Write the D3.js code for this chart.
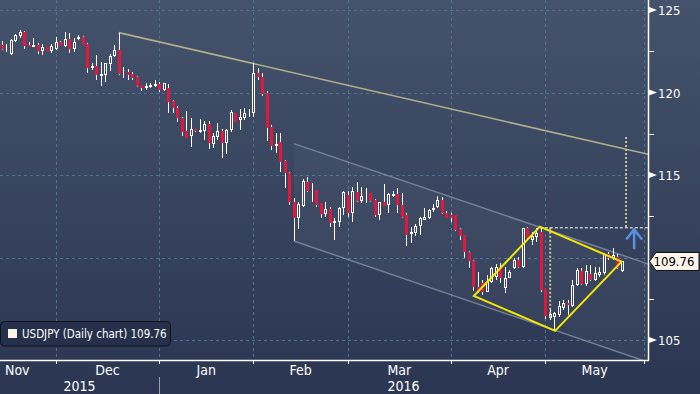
<!doctype html>
<html>
  <head>
    <title>USDJPY daily</title>
    <style>
      body { margin: 0; background: #2c3853; }
      text { font-family: 'Liberation Sans Narrow', 'DejaVu Sans Condensed', sans-serif; }
    </style>
  </head>
  <body>
    <svg width='700' height='394'></svg>

  <script src='https://cdnjs.cloudflare.com/ajax/libs/d3/7.8.5/d3.min.js'></script>
  <script>
// Daily candles, [open, high, low, close], one per weekday from mid-Nov 2015
var ohlc = [
  [122.88,123.12,122.58,122.62],[122.58,122.94,122.47,122.64],[122.33,123.24,122.29,123.18],
  [123.14,123.55,123.08,123.48],[123.42,123.79,123.30,123.65],[123.67,123.70,122.65,122.82],
  [122.88,123.08,122.77,122.78],[122.78,123.32,122.76,122.88],[122.88,123.00,122.35,122.53],
  [122.53,122.94,122.27,122.74],[122.74,122.76,122.50,122.52],[122.53,122.94,122.38,122.80],
  [122.62,123.35,122.58,123.08],[123.08,123.14,122.80,122.82],[122.82,123.69,122.78,123.23],
  [123.23,123.59,122.38,122.62],[122.62,123.29,122.47,123.08],[123.23,123.48,123.18,123.38],
  [123.38,123.42,122.85,122.88],[122.92,123.02,121.17,121.47],[121.47,121.81,121.37,121.61],
  [121.61,122.27,120.76,121.06],[121.00,121.87,120.41,121.11],[121.06,121.81,120.64,121.77],
  [121.71,122.33,121.32,122.23],[122.21,122.88,122.17,122.58],[122.58,123.63,121.06,121.11],
  [121.21,121.56,120.90,121.23],[121.26,121.41,120.76,121.06],[121.11,121.24,120.76,120.86],
  [120.96,121.00,120.33,120.40],[120.45,120.45,120.09,120.29],[120.26,120.60,120.15,120.40],
  [120.35,120.58,120.27,120.45],[120.41,120.76,120.33,120.50],[120.52,120.64,120.05,120.15],
  [120.15,120.58,120.12,120.56],[120.26,120.50,118.74,119.44],[119.49,119.55,118.76,119.04],
  [119.04,119.18,118.23,118.46],[118.46,118.50,117.37,117.61],[117.67,118.88,117.22,117.27],
  [117.38,118.46,116.72,117.79],[117.79,117.80,117.63,117.67],[117.63,118.40,117.53,117.73],
  [117.69,118.29,117.12,118.07],[118.07,118.29,116.56,116.96],[116.86,117.53,116.62,117.36],
  [117.32,118.13,117.12,117.67],[117.67,117.77,116.01,116.92],[116.92,117.77,116.27,117.73],
  [117.73,118.94,117.63,118.84],[118.74,118.76,118.21,118.23],[118.33,118.98,117.73,118.50],
  [118.44,119.04,118.33,118.74],[118.74,118.98,118.50,118.84],[118.78,121.77,118.50,121.20],
  [121.20,121.50,120.76,120.96],[120.96,121.18,119.79,119.89],[119.95,120.09,117.06,117.87],
  [117.93,118.03,116.52,116.78],[116.78,117.55,116.33,116.86],[116.98,117.55,115.18,115.81],
  [115.85,115.91,114.21,115.10],[115.10,115.18,113.18,113.35],[113.35,113.61,111.00,112.41],
  [112.41,113.38,111.73,113.23],[113.15,114.76,113.08,114.64],[114.60,114.86,113.99,114.05],
  [114.05,114.50,113.38,114.09],[114.09,114.12,113.08,113.18],[113.28,113.29,112.38,112.64],
  [112.64,113.38,112.47,112.92],[112.92,113.05,111.87,112.07],[112.07,112.38,111.06,112.21],
  [112.17,113.05,111.87,112.98],[112.98,114.05,112.58,113.99],[113.79,114.05,112.47,112.68],
  [112.68,114.26,112.17,114.05],[113.99,114.60,113.38,113.44],[113.44,114.29,113.28,113.73],
  [113.69,114.20,113.28,113.73],[113.89,113.93,113.38,113.44],[113.48,113.53,112.47,112.58],
  [112.58,113.38,112.27,113.35],[113.35,114.45,113.14,113.14],[113.18,113.93,112.68,113.85],
  [113.73,114.05,113.69,113.85],[113.85,114.20,112.68,113.18],[113.18,113.89,112.38,112.47],
  [112.58,112.68,110.72,111.37],[111.41,111.87,110.86,111.53],[111.47,112.01,111.32,111.93],
  [111.93,112.47,111.37,112.38],[112.27,112.98,112.27,112.44],[112.38,112.94,112.33,112.88],
  [112.88,113.23,112.78,113.02],[113.08,113.75,113.02,113.48],[113.48,113.69,112.62,112.68],
  [112.68,112.82,112.38,112.41],[112.58,112.68,112.17,112.38],[112.58,112.60,111.61,111.67],
  [111.73,111.81,111.06,111.32],[111.37,111.39,109.99,110.35],[110.35,110.40,109.38,109.79],
  [109.79,109.85,107.97,108.23],[108.23,109.14,107.83,107.97],[108.44,108.64,107.73,107.93],
  [107.93,108.94,107.88,108.53],[108.53,109.45,108.44,109.35],[108.84,109.61,108.64,109.45],
  [109.45,109.67,108.45,108.74],[108.17,109.45,107.83,108.78],[108.78,109.24,108.73,109.14],
  [109.35,109.95,109.30,109.85],[109.85,110.05,109.35,109.44],[109.44,111.81,109.35,111.77],
  [111.77,111.87,111.12,111.16],[111.06,111.57,110.76,111.32],[111.26,111.77,110.96,111.47],
  [111.53,111.77,107.89,108.03],[108.09,108.09,106.27,106.47],[106.35,106.92,106.21,106.56],
  [106.41,106.72,105.61,106.62],[106.52,107.36,106.41,107.08],[106.92,107.42,106.82,107.22],
  [107.26,107.42,106.52,107.12],[107.08,108.64,107.02,108.33],[108.33,109.38,108.29,109.24],
  [109.20,109.38,108.35,108.40],[108.38,109.55,108.27,109.20],[108.98,109.55,108.58,108.64],
  [108.64,109.45,108.58,109.05],[108.94,109.45,108.84,109.14],[109.05,110.26,108.94,110.20],
  [110.20,110.35,109.85,109.95],[109.99,110.56,109.85,110.15],[110.05,110.20,109.30,109.35],
  [109.18,109.79,109.14,109.76]
];

// month labels and the candle index where each month starts
var months = ['Nov', 'Dec', 'Jan', 'Feb', 'Mar', 'Apr', 'May'];
var monthStart = [-9, 12, 35, 56, 77, 100, 121, 143];
var years = ['2015', '2016'];
var yearStart = [-9, 35, 144];
var yMajor = [105, 110, 115, 120, 125];
var yMinor = [107.5, 112.5, 117.5, 122.5];
var lastPrice = 109.76;
var legendLabel = 'USDJPY (Daily chart) 109.76';

// drawn studies, points as [candle index, price]
var resistance = [[26, 123.63], [144, 116.25]];
var channelTop = [[65, 116.9], [144, 109.6]];
var channelBottom = [[65, 111.0], [144, 103.65]];
var diamond = [[105.1, 107.67], [119.8, 111.87], [138, 109.75], [123.2, 105.55]];
var heightLine = [[122.1, 111.8], [122.1, 106.3]];
var targetLine = [[139, 111.85], [139, 117.3]];
var breakLevel = [[119.8, 111.8], [144, 111.8]];
var arrow = { i: 140.8, from: 110.5, to: 111.7 };

var svg = d3.select('svg'),
  width = +svg.attr('width'),
  height = +svg.attr('height'),
  right = 648,
  bottom = 360;

var x = d3.scaleLinear().domain([0, 143]).range([2, 644]);
var y = d3.scaleLinear().domain([105, 125]).range([340, 10]);

// background
var defs = svg.append('defs');
var grad = defs.append('linearGradient').attr('id', 'bg')
  .attr('x1', 0).attr('y1', 0).attr('x2', 0).attr('y2', 1);
grad.append('stop').attr('offset', 0).attr('stop-color', '#45526c');
grad.append('stop').attr('offset', 1).attr('stop-color', '#2b3752');
svg.append('rect').attr('width', width).attr('height', height).attr('fill', 'url(#bg)');

defs.append('clipPath').attr('id', 'plot')
  .append('rect').attr('width', right).attr('height', bottom);

var px = function(v) { return Math.round(v) + 0.5; };

// grid
var grid = svg.append('g').attr('stroke', '#4d7290').attr('stroke-dasharray', '3,3')
  .attr('shape-rendering', 'crispEdges');
yMajor.forEach(function(v) {
  grid.append('line').attr('x1', 0).attr('x2', right)
    .attr('y1', px(y(v))).attr('y2', px(y(v)));
});
monthStart.slice(1).forEach(function(i) {
  grid.append('line').attr('x1', px(x(i))).attr('x2', px(x(i)))
    .attr('y1', 0).attr('y2', bottom);
});

var plot = svg.append('g').attr('clip-path', 'url(#plot)');
var line = d3.line().x(function(d) { return x(d[0]); }).y(function(d) { return y(d[1]); });

// channel
plot.append('path')
  .attr('d', line(channelTop.concat(channelBottom.slice().reverse())) + 'Z')
  .attr('fill', '#ffffff').attr('fill-opacity', 0.035);
[channelTop, channelBottom].forEach(function(l) {
  plot.append('path').attr('d', line(l)).attr('stroke', '#8a93a8')
    .attr('stroke-opacity', 0.75).attr('stroke-width', 1.5).attr('fill', 'none');
});
plot.append('path').attr('d', line(resistance)).attr('stroke', '#b2b08a')
  .attr('stroke-width', 1.6).attr('fill', 'none');

// candles
var candles = plot.append('g').attr('shape-rendering', 'crispEdges');
ohlc.forEach(function(d, i) {
  var cx = px(x(i)), up = d[3] >= d[0];
  var top = Math.round(y(Math.max(d[0], d[3]))), bot = Math.round(y(Math.min(d[0], d[3])));
  candles.append('line').attr('x1', cx).attr('x2', cx)
    .attr('y1', Math.round(y(d[1]))).attr('y2', Math.round(y(d[2])))
    .attr('stroke', '#ffffff');
  if (up) {
    candles.append('rect').attr('x', cx - 1).attr('width', 2)
      .attr('y', top + 0.5).attr('height', Math.max(bot - top - 1, 0))
      .attr('fill', '#3c4964').attr('stroke', '#ffffff');
  } else {
    candles.append('rect').attr('x', cx - 1.5).attr('width', 3)
      .attr('y', top).attr('height', Math.max(bot - top, 1))
      .attr('fill', '#e3173e');
  }
});

// studies
plot.append('path').attr('d', line(heightLine)).attr('stroke', '#c9c28c')
  .attr('stroke-width', 2).attr('stroke-dasharray', '2,2');
plot.append('path').attr('d', line(targetLine)).attr('stroke', '#c9c28c')
  .attr('stroke-width', 2).attr('stroke-dasharray', '2,2');
plot.append('path').attr('d', line(breakLevel)).attr('stroke', '#ffffff')
  .attr('stroke-width', 1).attr('stroke-dasharray', '3,2');
plot.append('path').attr('d', line(diamond) + 'Z').attr('stroke', '#f4e800')
  .attr('stroke-width', 2).attr('fill', 'none').attr('stroke-linejoin', 'miter');

var ax = x(arrow.i), ay0 = y(arrow.from), ay1 = y(arrow.to);
svg.append('path')
  .attr('d', 'M' + ax + ',' + ay0 + 'L' + ax + ',' + ay1 +
    'M' + (ax - 8) + ',' + (ay1 + 10) + 'L' + ax + ',' + ay1 + 'L' + (ax + 8) + ',' + (ay1 + 10))
  .attr('stroke', '#5b8fdf').attr('stroke-width', 2.5).attr('fill', 'none');

// axes
svg.append('line').attr('x1', right + 0.5).attr('x2', right + 0.5).attr('y1', 0).attr('y2', bottom + 1)
  .attr('stroke', '#ffffff').attr('stroke-width', 1.5);
svg.append('line').attr('x1', 0).attr('x2', right + 1).attr('y1', bottom + 0.5).attr('y2', bottom + 0.5)
  .attr('stroke', '#ffffff').attr('stroke-width', 1.5);

monthStart.slice(1).forEach(function(i) {
  svg.append('line').attr('x1', px(x(i))).attr('x2', px(x(i)))
    .attr('y1', bottom).attr('y2', bottom + 4).attr('stroke', '#ffffff');
});
months.forEach(function(m, k) {
  var a = Math.max(x(monthStart[k]), 0), b = x(monthStart[k + 1]);
  var t = svg.append('text').attr('y', 375).attr('fill', '#ffffff').attr('font-size', 14).text(m);
  if (x(monthStart[k]) < 0) t.attr('x', 5);
  else t.attr('x', (a + b) / 2).attr('text-anchor', 'middle');
});
years.forEach(function(yr, k) {
  var a = Math.max(x(yearStart[k]), 0), b = Math.min(x(yearStart[k + 1]), right);
  svg.append('text').attr('x', (a + b) / 2).attr('y', 391).attr('text-anchor', 'middle')
    .attr('fill', '#ffffff').attr('font-size', 14).text(yr);
});
svg.append('line').attr('x1', px(x(yearStart[1]))).attr('x2', px(x(yearStart[1])))
  .attr('y1', 377).attr('y2', height).attr('stroke', '#9aa1ad');

yMajor.forEach(function(v) {
  var yy = y(v);
  if (Math.abs(v - lastPrice) < 1) return;
  svg.append('path').attr('d', 'M' + (right + 1) + ',' + (yy - 3) + 'L' + (right + 9) + ',' + yy +
    'L' + (right + 1) + ',' + (yy + 3) + 'Z').attr('fill', '#ffffff');
  svg.append('text').attr('x', right + 10).attr('y', yy + 5).attr('fill', '#ffffff')
    .attr('font-size', 13).text(v);
});
yMinor.forEach(function(v) {
  svg.append('line').attr('x1', right).attr('x2', right + 6)
    .attr('y1', px(y(v))).attr('y2', px(y(v))).attr('stroke', '#ffffff');
});

// last price tag
var ly = y(lastPrice);
svg.append('path')
  .attr('d', 'M' + (right + 1.5) + ',' + ly + 'L' + (right + 8) + ',' + (ly - 9) + 'L' + 699 + ',' + (ly - 9) +
    'L' + 699 + ',' + (ly + 9) + 'L' + (right + 8) + ',' + (ly + 9) + 'Z')
  .attr('fill', '#fdf5e9').attr('stroke', '#111111');
svg.append('text').attr('x', 674).attr('y', ly + 5).attr('text-anchor', 'middle').attr('fill', '#000000')
  .attr('font-size', 13).text(lastPrice.toFixed(2));

// legend
svg.append('rect').attr('x', 0.5).attr('y', 321.5).attr('width', 170).attr('height', 24.5).attr('rx', 4)
  .attr('fill', '#25304a').attr('stroke', '#0c111c');
svg.append('rect').attr('x', 8).attr('y', 329).attr('width', 9).attr('height', 9).attr('fill', '#fbf3ea');
svg.append('text').attr('x', 22).attr('y', 338).attr('fill', '#ffffff').attr('font-size', 11.5)
  .text(legendLabel);
  </script>
  </body>
</html>
